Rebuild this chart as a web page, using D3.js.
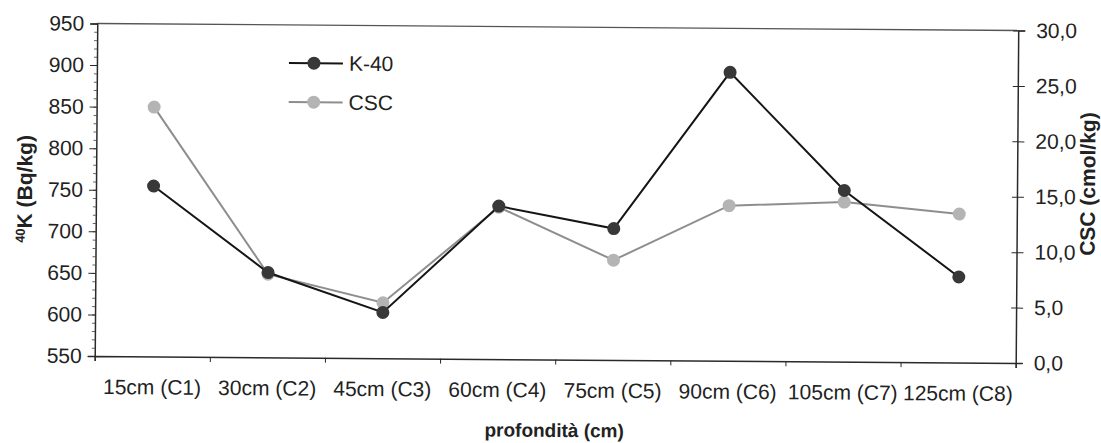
<!DOCTYPE html>
<html>
<head>
<meta charset="utf-8">
<script src="https://cdn.jsdelivr.net/npm/d3@7/dist/d3.min.js"></script>
<style>
  html, body { margin: 0; padding: 0; background: #fff; }
  svg { display: block; }
  text { font-family: "Liberation Sans", Arial, sans-serif; fill: #222; }
</style>
</head>
<body>
<script>
// Depth categories (x axis)
const categories = ["15cm (C1)", "30cm (C2)", "45cm (C3)", "60cm (C4)",
                    "75cm (C5)", "90cm (C6)", "105cm (C7)", "125cm (C8)"];
// K-40 activity concentration, Bq/kg (left axis)
const k40 = [755, 652, 605, 734, 708, 897, 756, 653];
// Cation exchange capacity, cmol/kg (right axis)
const csc = [22.5, 7.5, 5.0, 13.7, 9.0, 14.0, 14.4, 13.4];
// Axis ticks
const leftTicks = [550, 600, 650, 700, 750, 800, 850, 900, 950];
const leftMinorTicks = d3.range(550, 951, 10);
const rightTicks = [0, 5, 10, 15, 20, 25, 30];

const W = 1101, H = 443;
const plot = { left: 96, right: 1017, top: 27, bottom: 359.5 };

const svg = d3.select("body").append("svg")
  .attr("width", W).attr("height", H);

// whole chart sits slightly tilted on the page
const root = svg.append("g").attr("transform", "rotate(0.435, 556, 190)");

const xBand = d3.scaleBand().domain(categories).range([plot.left, plot.right]);
const xEdge = d3.scaleLinear().domain([0, categories.length]).range([plot.left, plot.right]);
const xc = d => xBand(d) + xBand.bandwidth() / 2;

const yL = d3.scaleLinear().domain([550, 950]).range([plot.bottom, plot.top]);
const yR = d3.scaleLinear().domain([0, 30]).range([plot.bottom, plot.top]);

const axisColor = "#2a2a2a";

// top border of plot area
root.append("line")
  .attr("x1", plot.left).attr("x2", plot.right)
  .attr("y1", plot.top).attr("y2", plot.top)
  .attr("stroke", "#555").attr("stroke-width", 1.3);

// left axis: minor ticks
root.append("g")
  .attr("transform", `translate(${plot.left},0)`)
  .call(d3.axisLeft(yL).tickValues(leftMinorTicks).tickSize(3).tickFormat(""))
  .call(g => g.select(".domain").remove())
  .call(g => g.selectAll(".tick line").attr("stroke", "#666"));

// left axis: major ticks + labels
root.append("g")
  .attr("transform", `translate(${plot.left},0)`)
  .call(d3.axisLeft(yL).tickValues(leftTicks).tickSize(7).tickPadding(6).tickFormat(d3.format("d")))
  .call(g => g.select(".domain").attr("stroke", axisColor).attr("stroke-width", 1.5))
  .call(g => g.selectAll(".tick line").attr("stroke", axisColor))
  .call(g => g.selectAll(".tick text").attr("font-size", 21).style("fill", "#222"));

// right axis
const fmtComma = d => d3.format(".1f")(d).replace(".", ",");
root.append("g")
  .attr("transform", `translate(${plot.right},0)`)
  .call(d3.axisRight(yR).tickValues(rightTicks).tickSize(7).tickPadding(11).tickFormat(fmtComma))
  .call(g => g.select(".domain").attr("stroke", axisColor).attr("stroke-width", 1.5))
  .call(g => g.selectAll(".tick line").attr("x1", -5).attr("stroke", axisColor))
  .call(g => g.selectAll(".tick text").attr("font-size", 21).style("fill", "#222"));

// bottom axis: tick marks at category boundaries
root.append("g")
  .attr("transform", `translate(0,${plot.bottom})`)
  .call(d3.axisBottom(xEdge).tickValues(d3.range(categories.length + 1)).tickSize(5).tickFormat(""))
  .call(g => g.select(".domain").attr("stroke", axisColor).attr("stroke-width", 1.5))
  .call(g => g.selectAll(".tick line").attr("stroke", axisColor));

// category labels
root.append("g").selectAll("text")
  .data(categories).join("text")
  .attr("x", d => xc(d))
  .attr("y", plot.bottom + 38)
  .attr("text-anchor", "middle")
  .attr("font-size", 21)
  .text(d => d);

// axis titles
const yTitle = root.append("text")
  .attr("transform", `translate(32, 193) rotate(-90)`)
  .attr("text-anchor", "middle")
  .attr("font-size", 21).attr("font-weight", "bold");
yTitle.append("tspan").attr("font-size", 13).attr("dy", -7).text("40");
yTitle.append("tspan").attr("dy", 7).text("K (Bq/kg)");

root.append("text")
  .attr("transform", `translate(1095, 180) rotate(-90)`)
  .attr("text-anchor", "middle")
  .attr("font-size", 21).attr("font-weight", "bold")
  .text("CSC (cmol/kg)");

root.append("text")
  .attr("x", 556).attr("y", 437)
  .attr("text-anchor", "middle")
  .attr("font-size", 19).attr("font-weight", "bold")
  .text("profondità (cm)");

// series
const series = [
  { name: "K-40", values: k40, y: yL, line: "#151515", dot: "#383838", lw: 2 },
  { name: "CSC",  values: csc, y: yR, line: "#8e8e8e", dot: "#b4b4b4", lw: 2 }
];

// draw CSC first so K-40 sits on top
[series[1], series[0]].forEach(s => {
  const line = d3.line().x((d, i) => xc(categories[i])).y(d => s.y(d));
  root.append("path")
    .datum(s.values)
    .attr("d", line)
    .attr("fill", "none")
    .attr("stroke", s.line)
    .attr("stroke-width", s.lw);
  root.append("g").selectAll("circle")
    .data(s.values).join("circle")
    .attr("cx", (d, i) => xc(categories[i]))
    .attr("cy", d => s.y(d))
    .attr("r", 6.5)
    .attr("fill", s.dot);
});

// legend
const legend = root.append("g").attr("transform", "translate(288, 65)");
series.forEach((s, i) => {
  const g = legend.append("g").attr("transform", `translate(0, ${i * 39})`);
  g.append("line").attr("x1", 0).attr("x2", 54).attr("y1", 0).attr("y2", 0)
    .attr("stroke", s.line).attr("stroke-width", s.lw);
  g.append("circle").attr("cx", 25).attr("cy", 0).attr("r", 6.5).attr("fill", s.dot);
  g.append("text").attr("x", 60).attr("y", 0).attr("dy", "0.35em")
    .attr("font-size", 21).text(s.name);
});
</script>
</body>
</html>
